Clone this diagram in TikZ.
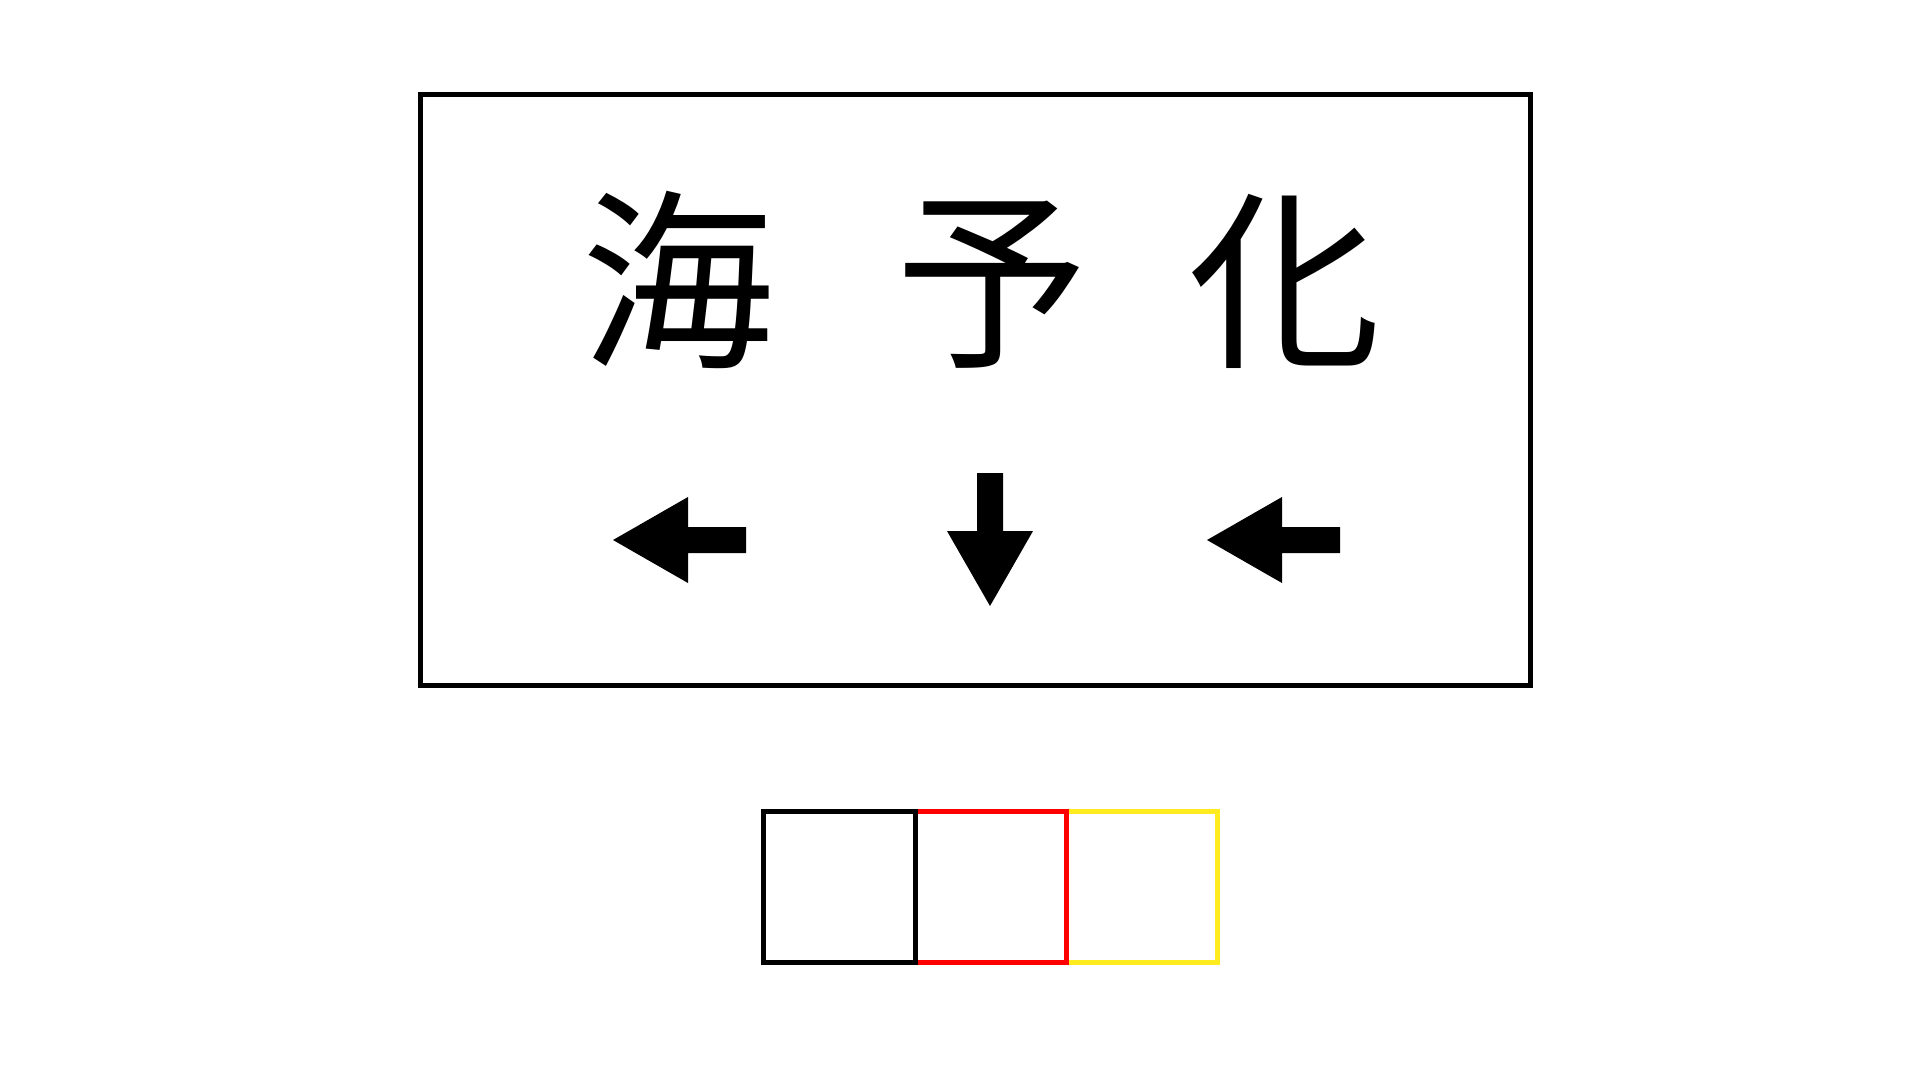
\documentclass[tikz,border=0pt]{standalone}
\usepackage{fontspec}
\newfontfamily\cjk{Noto Sans CJK JP}
\definecolor{sqred}{RGB}{255,0,0}
\definecolor{sqyellow}{RGB}{255,235,30}
\begin{document}
\begin{tikzpicture}[x=1pt,y=-1pt,
  frame/.style={draw=black,line width=5pt},
  glyph/.style={font=\cjk\fontsize{193}{193}\selectfont,inner sep=0pt,anchor=base},
  arrowshape/.style={fill=black,draw=none},
  sq/.style={line width=5pt,fill=none}]
\useasboundingbox (0,0) rectangle (1920,1080);
\fill[white] (0,0) rectangle (1920,1080);
% main frame
\draw[frame] (420,94.5) rectangle (1530.5,685.5);
% characters
\node[glyph] (c1) at (677.5,353) {海};
\node[glyph] (c2) at (992,353) {予};
\node[glyph] (c3) at (1285,353) {化};
% arrows
\fill[arrowshape] (613,540) -- (688,497) -- (688,527) -- (746,527) -- (746,553) -- (688,553) -- (688,583) -- cycle;
\fill[arrowshape] (990,606) -- (947,531) -- (977,531) -- (977,473) -- (1003,473) -- (1003,531) -- (1033,531) -- cycle;
\fill[arrowshape] (1207,540) -- (1282,497) -- (1282,527) -- (1340,527) -- (1340,553) -- (1282,553) -- (1282,583) -- cycle;
% squares
\draw[sq,draw=sqyellow] (1066,811) rectangle (1217.5,962);
\draw[sq,draw=sqred] (915,811) rectangle (1066,962);
\draw[sq,draw=black] (763.5,811) rectangle (915,962);
\end{tikzpicture}
\end{document}
